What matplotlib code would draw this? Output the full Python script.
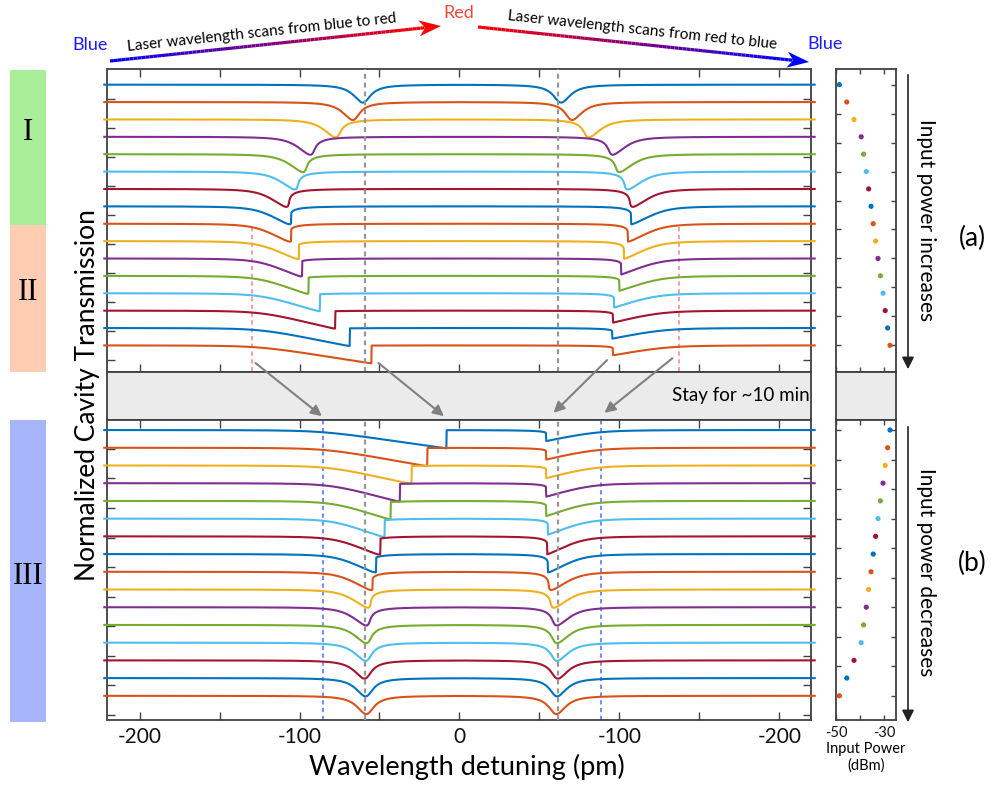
import numpy as np
import matplotlib.pyplot as plt
from matplotlib.collections import LineCollection
from matplotlib.patches import Polygon, Rectangle, ConnectionPatch
import matplotlib.transforms as mtransforms

plt.rcParams['font.family'] = ['Lato', 'DejaVu Sans']

# MATLAB default colour order
colors = ['#0072BD', '#D95319', '#EDB120', '#7E2F8E', '#77AC30', '#4DBEEE', '#A2142F']

# (a) input power increases: dip / jump position (pm) of each scan and its thermal drag (pm)
up_fwd_pos = [-60.4, -66.7, -77.5, -93.3, -97.9, -103.0, -108.3, -106.2,
              -106.0, -101.0, -99.0, -94.8, -87.5, -77.9, -68.8, -55.2]
up_fwd_shift = [1, 2, 4, 5, 6, 7, 8, 12, 13, 16, 18, 22, 28, 37, 46, 60]
up_bwd_pos = [63.5, 70.4, 80.8, 95.8, 100.0, 105.2, 108.3, 107.3,
              105.2, 102.7, 101.0, 100.0, 96.5, 95.8, 95.4, 95.8]
up_bwd_shift = [1, 2, 4, 5, 6, 7, 8, 13, 13, 14, 20, 24, 26, 37, 46, 52]
up_power = [-48.6, -45.5, -42.5, -39.5, -38.5, -37.4, -36.4, -35.4,
            -34.5, -33.5, -32.5, -31.5, -30.4, -29.5, -28.5, -27.5]

# (b) after ~10 min, input power decreases
down_fwd_pos = [-8.3, -20.2, -30.2, -37.5, -43.3, -47.3, -50.0, -52.7,
                -55.2, -57.3, -58.3, -58.3, -58.7, -59.4, -58.7, -58.3]
down_fwd_shift = [68, 54, 42, 34, 27, 23, 19, 16, 12, 8, 6, 4, 3, 2, 1.5, 1]
down_bwd_pos = [54.2, 54.2, 54.2, 54.2, 54.2, 55.2, 54.8, 55.2,
                57.3, 59.0, 60.8, 61.0, 61.0, 61.5, 61.0, 60.6]
down_bwd_shift = [45, 40, 35, 31, 24, 21, 15, 13, 9, 7, 5, 4, 3, 2, 1.5, 1]
down_power = [-27.5, -28.5, -29.5, -30.4, -31.5, -32.5, -33.5, -34.5,
              -35.4, -36.4, -37.4, -38.5, -39.5, -42.5, -45.5, -48.6]

cold_lines = [-59.0, 61.5]
onset_lines = [-129.6, 137.3]
recover_lines = [-85.3, 88.7]

xticks = [-200, -150, -100, -50, 0, 50, 100, 150, 200]
xticklabels = ['-200', '', '-100', '', '0', '', '-100', '', '-200']

HW = 6.5      # resonance half width (pm)
DEPTH = 0.62  # dip depth
STEP = 0.6    # vertical offset between scans
U = np.linspace(1e-4, 1.0, 2500)
half = np.linspace(-222, 0, 1000)


def scan(x, c0, shift, forward):
    # thermally dragged lorentzian: solve u = L(x - c0 - shift*u)
    det = x[:, None] - c0 - shift * U[None, :]
    f = U[None, :] - HW**2 / (HW**2 + det**2)
    cross = np.sign(f[:, :-1]) != np.sign(f[:, 1:])
    n = cross.shape[1]
    if forward:
        j = n - 1 - np.argmax(cross[:, ::-1], axis=1)
    else:
        j = np.argmax(cross, axis=1)
    r = np.arange(len(x))
    f0, f1 = f[r, j], f[r, j + 1]
    return U[j] + (U[j + 1] - U[j]) * f0 / (f0 - f1)


def fold_offset(shift):
    xr = shift * U + HW * np.sqrt(1 / U - 1)
    d = np.diff(xr)
    k = np.where((d[:-1] < 0) & (d[1:] >= 0))[0]
    return xr[k[0] + 1] if len(k) else shift


def trace(fp, fs, bp, bs):
    u_f = scan(half, fp - fs, fs, True)
    u_b = scan(half[::-1], -bp - fold_offset(bs), bs, False)
    return np.concatenate([half, -half[::-1]]), np.concatenate([u_f, u_b])


W, H = 995, 786
fig = plt.figure(figsize=(W / 100, H / 100), dpi=100)


def px_axes(x0, y0, x1, y1, **kw):
    return fig.add_axes([x0 / W, 1 - y1 / H, (x1 - x0) / W, (y1 - y0) / H], **kw)


ax_top = px_axes(107.5, 69, 811.5, 372)
ax_band = px_axes(107.5, 372, 811.5, 419.5)
ax_bot = px_axes(107.5, 419.5, 811.5, 720)
ax_rtop = px_axes(836, 69, 896, 372)
ax_rband = px_axes(836, 372, 896, 419.5)
ax_rbot = px_axes(836, 419.5, 896, 720)

axc = '#404040'
for ax in [ax_top, ax_band, ax_bot, ax_rtop, ax_rband, ax_rbot]:
    for s in ax.spines.values():
        s.set_linewidth(1.3)
        s.set_color(axc)

for ax, fps, fss, bps, bss, ylim, yt in [
        (ax_top, up_fwd_pos, up_fwd_shift, up_bwd_pos, up_bwd_shift, (-8.92, 1.54), 0.5),
        (ax_bot, down_fwd_pos, down_fwd_shift, down_bwd_pos, down_bwd_shift, (-8.82, 1.356), 0.36)]:
    for i in range(16):
        p, u = trace(fps[i], fss[i], bps[i], bss[i])
        ax.plot(p, 1 - DEPTH * u - STEP * i, color=colors[i % 7], lw=1.5,
                clip_on=False, zorder=3)
    ax.set_xlim(-220, 220)
    ax.set_ylim(*ylim)
    ax.set_yticks(yt - np.arange(10))
    ax.set_yticklabels([])
    ax.set_xticks(xticks)
    ax.tick_params(direction='in', length=6, width=1.0, color=axc,
                   top=True, right=True, labelsize=15, pad=5, labelcolor='#111111')
    for xv in cold_lines:
        ax.axvline(xv, color='#969696', lw=1.6, ls=(0, (2.2, 1.8)), zorder=4)

ax_top.set_xticklabels([])
ax_bot.set_xticklabels(xticklabels)
for xv in onset_lines:
    ax_top.plot([xv, xv], [-3.9, -8.92], color='#FF9C9C', lw=1.4, ls=(0, (2.2, 1.8)), zorder=2)
for xv in recover_lines:
    ax_bot.axvline(xv, color='#6F8CFF', lw=1.4, ls=(0, (2.2, 1.8)), zorder=2)

for ax in [ax_band, ax_rband]:
    ax.set_facecolor('#EBEBEB')
    ax.set_xticks([])
    ax.set_yticks([])
ax_band.set_xlim(-220, 220)
ax_band.set_ylim(0, 1)
ax_band.text(0.997, 0.5, 'Stay for ~10 min', transform=ax_band.transAxes,
             ha='right', va='center', fontsize=13.5)

# input power panels
for ax, pw in [(ax_rtop, up_power), (ax_rbot, down_power)]:
    ax.scatter(pw, 1 - STEP * np.arange(16), s=14, c=[colors[i % 7] for i in range(16)],
               zorder=3, linewidths=0)
    ax.set_xlim(-50, -25)
    ax.set_xticks([-50, -40, -30])
    ax.set_yticks(1 - np.arange(10))
    ax.set_yticklabels([])
    ax.tick_params(direction='in', length=3.5, width=1.0, color=axc,
                   top=True, right=True, labelsize=10.5, pad=4, labelcolor='#111111')
ax_rtop.set_ylim(ax_top.get_ylim())
ax_rbot.set_ylim(ax_bot.get_ylim())
ax_rtop.set_xticklabels([])
ax_rbot.set_xticklabels(['-50', '', '-30'])
ax_rbot.set_xlabel('Input Power\n(dBm)', fontsize=10.5, labelpad=2, linespacing=1.15)

# transitions from (a) to (b)
band_tr = mtransforms.blended_transform_factory(ax_band.transData, ax_band.transAxes)
for (xa, ya), (xb, yb) in [((-127.5, -8.61), (-86.0, 0.07)),
                           ((-50.6, -8.61), (-9.7, 0.07)),
                           ((92.2, -8.51), (58.8, 0.14)),
                           ((133.0, -8.45), (90.6, 0.14))]:
    cp = ConnectionPatch((xa, ya), (xb, yb), coordsA=ax_top.transData, coordsB=band_tr,
                         arrowstyle='-|>', mutation_scale=16, color='#808080', lw=1.5)
    cp.set_zorder(20)
    fig.add_artist(cp)

fig.text(88 / W, 1 - 395 / H, 'Normalized Cavity Transmission', rotation=90,
         fontsize=19, ha='center', va='center')
fig.text(467 / W, 1 - 767 / H, 'Wavelength detuning (pm)', fontsize=19.5,
         ha='center', va='center')

# overlay in pixel coordinates for the decorations
ov = fig.add_axes([0, 0, 1, 1], zorder=10)
ov.set_xlim(0, W)
ov.set_ylim(H, 0)
ov.axis('off')

for y0, y1, col, lab, ly in [(70, 225, '#A9EF99', 'I', 132),
                              (225, 372, '#FFCDB2', 'II', 292),
                              (420, 722, '#A7B5FA', 'III', 576)]:
    ov.add_patch(Rectangle((10, y0), 36, y1 - y0, color=col, lw=0))
    ov.text(28, ly, lab, family='Liberation Serif', fontsize=22, ha='center', va='center')


def grad_arrow(p0, p1, c0, c1, n=80):
    p0, p1 = np.array(p0, float), np.array(p1, float)
    d = (p1 - p0) / np.linalg.norm(p1 - p0)
    nv = np.array([-d[1], d[0]])
    hl, hw = 22, 8
    base = p1 - d * hl * 0.75
    t = np.linspace(0, 1, n + 1)
    pts = p0 + (base - p0) * t[:, None]
    segs = np.stack([pts[:-1], pts[1:]], axis=1)
    cols = [tuple((1 - s) * np.array(c0) + s * np.array(c1)) for s in t[:-1]]
    ov.add_collection(LineCollection(segs, colors=cols, linewidth=2.3, capstyle='butt'))
    head = [p1, p1 - d * hl + nv * hw, p1 - d * hl * 0.72, p1 - d * hl - nv * hw]
    ov.add_patch(Polygon(head, closed=True, color=c1, lw=0))


blue, red = (0.0, 0.0, 1.0), (1.0, 0.0, 0.0)
grad_arrow((110, 61), (441, 26), blue, red)
grad_arrow((478, 27), (809, 62), red, blue)
ov.text(262, 33, 'Laser wavelength scans from blue to red', rotation=6.1,
        fontsize=11, ha='center', va='center', rotation_mode='anchor')
ov.text(642, 30, 'Laser wavelength scans from red to blue', rotation=-6.1,
        fontsize=11, ha='center', va='center', rotation_mode='anchor')
ov.text(90, 45, 'Blue', color='#1c1cff', fontsize=13, ha='center', va='center')
ov.text(459, 13, 'Red', color='#F04B38', fontsize=13, ha='center', va='center')
ov.text(825, 44, 'Blue', color='#1c1cff', fontsize=13, ha='center', va='center')

for y0, y1, lab, ly, tag, ty in [(72, 372, 'Input power increases', 220, '(a)', 238),
                                 (424, 725, 'Input power decreases', 572, '(b)', 563)]:
    ov.annotate('', xy=(908, y1), xytext=(908, y0),
                arrowprops=dict(arrowstyle='-|>', color='#222222', lw=1.2, mutation_scale=18))
    ov.text(926.5, ly, lab, rotation=-90, fontsize=15, ha='center', va='center')
    ov.text(972, ty, tag, fontsize=19, ha='center', va='center')

fig.savefig('out.png', dpi=100)
